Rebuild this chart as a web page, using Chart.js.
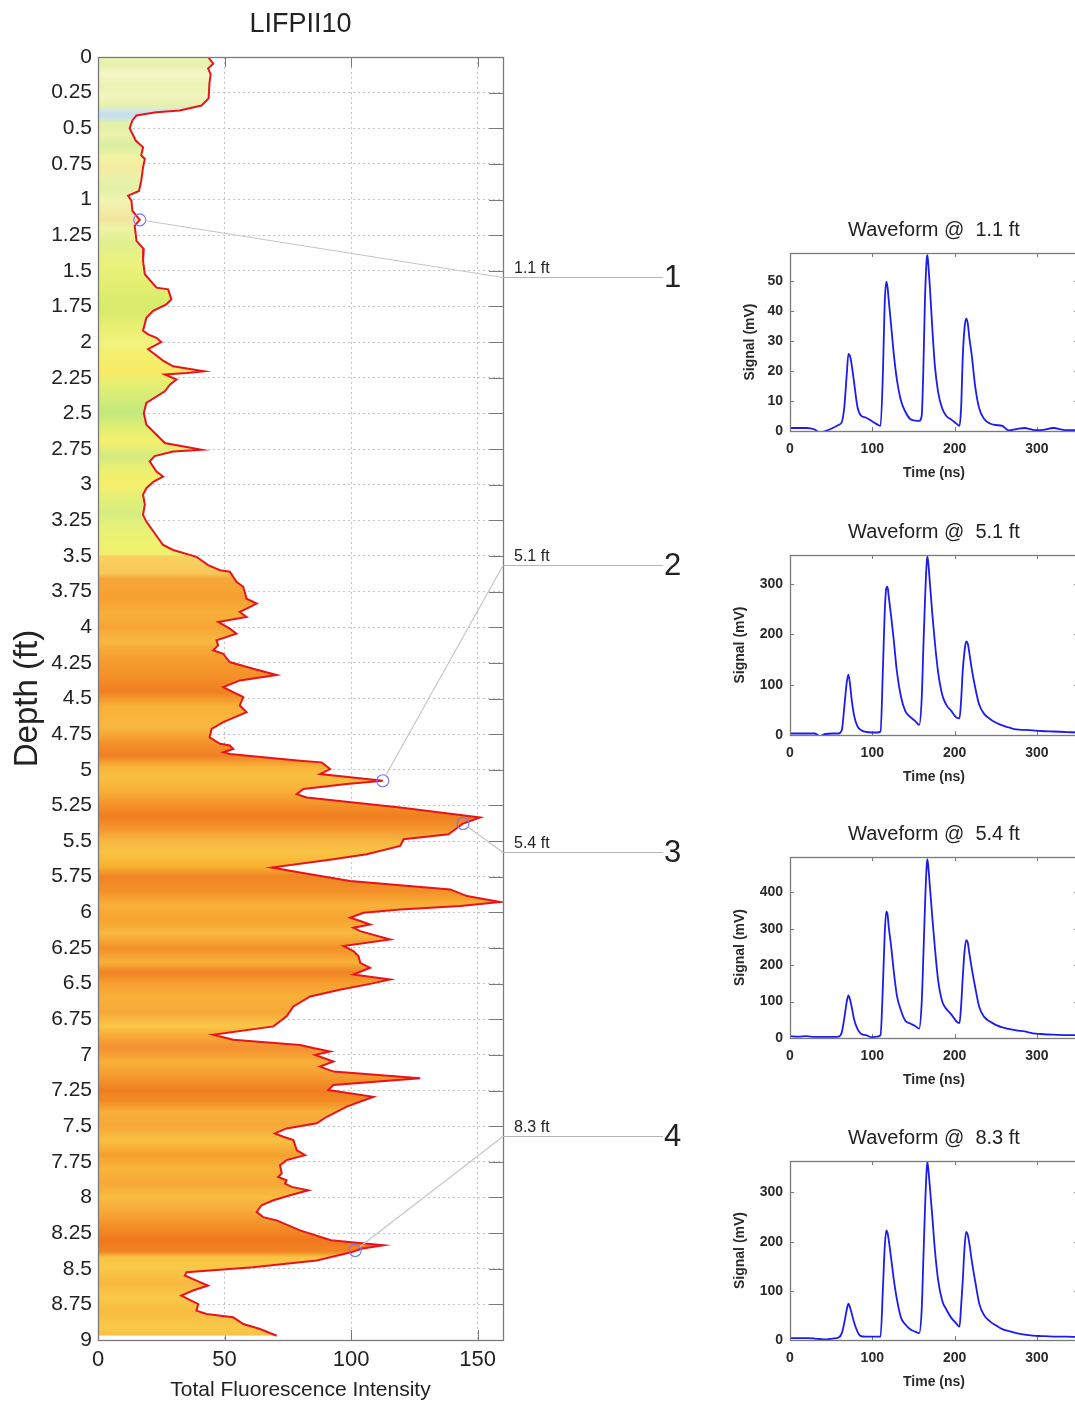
<!DOCTYPE html>
<html>
<head>
<meta charset="utf-8">
<script src="https://cdn.jsdelivr.net/npm/chart.js@4.4.1/dist/chart.umd.min.js"></script>
<style>
  html, body { margin: 0; padding: 0; background: #ffffff; width: 1075px; height: 1405px; overflow: hidden; position: relative; }
  canvas { position: absolute; display: block; }
</style>
</head>
<body>
<canvas id="mainChart" width="700" height="1405" style="left:0;top:0"></canvas>
<script>
// ---------------- DATA ----------------
// Depth log (ft) and total fluorescence intensity
const depthFt = [
  0.000, 0.047, 0.080, 0.120, 0.190, 0.290, 0.340, 0.375, 0.387, 0.410,
  0.445, 0.500, 0.586, 0.633, 0.690, 0.715, 0.774, 0.867, 0.940, 0.973,
  1.008, 1.080, 1.142, 1.184, 1.243, 1.290, 1.348, 1.430, 1.524, 1.618,
  1.630, 1.700, 1.735, 1.780, 1.830, 1.920, 1.946, 1.970, 2.000, 2.050,
  2.130, 2.170, 2.204, 2.216, 2.227, 2.263, 2.298, 2.345, 2.427, 2.497,
  2.580, 2.650, 2.708, 2.755, 2.767, 2.800, 2.837, 2.908, 2.943, 2.978,
  3.025, 3.070, 3.140, 3.212, 3.259, 3.341, 3.423, 3.458, 3.506, 3.564,
  3.600, 3.611, 3.681, 3.716, 3.800, 3.834, 3.870, 3.893, 3.928, 3.963,
  4.010, 4.045, 4.092, 4.127, 4.162, 4.186, 4.244, 4.291, 4.335, 4.373,
  4.420, 4.455, 4.490, 4.549, 4.596, 4.666, 4.713, 4.772, 4.818, 4.830,
  4.854, 4.877, 4.889, 4.936, 4.948, 4.995, 5.030, 5.077, 5.100, 5.135,
  5.171, 5.194, 5.264, 5.335, 5.377, 5.452, 5.487, 5.534, 5.593, 5.628,
  5.686, 5.721, 5.780, 5.839, 5.886, 5.928, 5.956, 5.980, 6.003, 6.038,
  6.061, 6.085, 6.108, 6.132, 6.190, 6.237, 6.272, 6.307, 6.354, 6.389,
  6.436, 6.471, 6.500, 6.542, 6.590, 6.660, 6.730, 6.800, 6.859, 6.894,
  6.930, 6.952, 6.976, 7.000, 7.046, 7.082, 7.117, 7.164, 7.211, 7.246,
  7.294, 7.363, 7.434, 7.480, 7.516, 7.551, 7.574, 7.598, 7.668, 7.703,
  7.738, 7.773, 7.832, 7.856, 7.879, 7.903, 7.926, 7.950, 7.985, 8.020,
  8.055, 8.102, 8.138, 8.161, 8.231, 8.300, 8.335, 8.360, 8.385, 8.442,
  8.489, 8.524, 8.547, 8.583, 8.618, 8.653, 8.689, 8.724, 8.747, 8.794,
  8.818, 8.841, 8.888, 8.923, 8.970
];
const fluorescence = [
  43.5, 45.5, 43.5, 44.5, 44.0, 43.7, 40.9, 32.3, 23.0, 15.2,
  13.6, 12.5, 14.9, 17.8, 17.1, 18.5, 17.8, 17.1, 16.2, 11.9,
  13.2, 13.6, 16.5, 14.5, 14.9, 15.2, 18.1, 17.8, 18.5, 23.1,
  27.7, 29.0, 27.0, 21.8, 19.1, 17.8, 19.8, 23.1, 25.0, 19.8,
  25.7, 29.7, 41.8, 35.0, 26.4, 31.0, 28.4, 26.4, 19.1, 18.1,
  19.1, 23.1, 26.4, 40.9, 29.7, 22.4, 20.4, 23.1, 25.7, 22.0,
  19.1, 17.8, 18.5, 17.8, 19.1, 22.4, 25.7, 29.7, 38.9, 43.5,
  48.2, 52.1, 54.7, 57.4, 58.7, 62.7, 58.7, 56.0, 58.7, 47.5,
  52.1, 54.7, 46.8, 47.5, 45.5, 49.5, 52.0, 61.3, 70.6, 56.1,
  49.5, 53.4, 57.4, 56.0, 58.7, 49.5, 44.9, 44.1, 48.2, 52.1,
  53.4, 49.5, 52.1, 79.8, 88.4, 91.7, 87.7, 112.5, 98.3, 81.1,
  78.5, 82.5, 119.4, 151.0, 144.2, 138.5, 120.7, 119.4, 106.2, 93.0,
  68.6, 79.8, 99.6, 139.2, 145.8, 159.0, 143.1, 119.4, 104.9, 99.6,
  103.6, 107.5, 100.9, 103.6, 115.4, 97.0, 100.9, 102.9, 103.6, 107.5,
  100.9, 115.4, 108.0, 96.0, 83.8, 77.2, 74.5, 69.3, 45.5, 53.4,
  79.8, 85.1, 91.7, 85.8, 93.0, 87.7, 93.0, 127.3, 93.0, 91.0,
  108.8, 98.3, 90.4, 86.4, 74.5, 69.9, 73.2, 77.2, 78.5, 81.8,
  74.5, 71.9, 72.6, 71.2, 74.5, 73.9, 76.5, 83.1, 75.9, 69.3,
  64.6, 62.7, 65.3, 70.6, 79.8, 92.0, 112.8, 104.0, 100.0, 86.4,
  61.3, 35.0, 34.3, 38.9, 43.5, 37.5, 32.9, 36.8, 39.6, 38.9,
  42.9, 53.4, 57.4, 64.0, 70.6
];

// Sampled points (circles) and their call-out labels
const markerDepth = [1.142, 5.077, 5.377, 8.372];
const markerIntensity = [16.5, 112.5, 144.2, 101.6];
const markerLabels = ['1.1 ft', '5.1 ft', '5.4 ft', '8.3 ft'];
const markerNumbers = ['1', '2', '3', '4'];

// Waveforms (time in ns, signal in mV)
const waveTime = [
  0, 10, 20, 30, 36, 43, 52, 59, 63, 66, 69, 71, 73, 75, 78, 82, 86, 92, 100, 106,
  110, 113, 115, 117, 118.5, 120, 123, 126, 130, 135, 140, 146, 152, 157, 160, 162, 164, 166, 167, 168.5,
  170, 173, 176, 180, 185, 190, 196, 202, 206, 208, 210, 212, 214, 216, 218, 221, 225, 230, 236, 243,
  250, 258, 266, 275, 285, 295, 305, 320, 335, 350
];
const wave11ft = [
  1, 1, 1, 0.5, -0.5, 0, 1, 2, 3, 8, 19, 25.7, 25, 22, 16, 8, 5.2, 4.5, 3.2, 2.2,
  1.7, 20, 42, 49.8, 48, 43.6, 35, 26, 17, 10, 6.5, 4, 3.5, 3.4, 5, 20, 43.6, 57, 58.7, 54,
  48, 34, 22, 13, 7.5, 5, 3.8, 2.5, 1.7, 8, 25, 34, 37.5, 36, 31, 25, 15, 7.5, 4, 2.5,
  2, 1.7, 0.2, 0.6, 1, 0.4, 0.3, 1, 0.3, 0.3
];
const wave51ft = [
  3, 3, 3, 3, -2, 2, 3, 3, 10, 56, 105, 120, 100, 70, 38, 17, 10, 6, 5, 5,
  7, 136, 240, 292, 295, 275, 235, 190, 125, 75, 48, 36, 28, 20, 70, 170, 265, 340, 355, 335,
  302, 240, 185, 125, 80, 60, 48, 35, 33, 70, 130, 165, 186, 182, 163, 130, 95, 60, 42, 32,
  25, 19, 15, 11, 10, 9, 8, 7, 6, 5
];
const wave54ft = [
  5, 4, 5, 3, 3, 3, 3, 4, 16, 55, 100, 117, 105, 85, 50, 25, 12, 8, 2, 4,
  8, 150, 280, 347, 340, 305, 250, 185, 115, 75, 48, 40, 33, 26, 95, 220, 360, 470, 491, 460,
  416, 330, 250, 159, 100, 80, 65, 46, 41, 90, 168, 235, 269, 262, 232, 190, 140, 85, 58, 45,
  36, 29, 25, 21, 18, 13, 11, 9, 8, 8
];
const wave83ft = [
  4, 4, 4, 3, 2, 1, 3, 5, 14, 35, 62, 74, 66, 54, 35, 17, 8, 7, 7, 7,
  7, 108, 185, 223, 218, 203, 165, 125, 82, 45, 32, 22, 17, 14, 60, 160, 264, 345, 362, 340,
  311, 250, 185, 122, 80, 62, 45, 34, 27, 70, 122, 185, 220, 214, 196, 160, 120, 74, 50, 38,
  30, 22, 18, 14, 11, 9, 8, 7, 7, 6
];
const waveSignals = [wave11ft, wave51ft, wave54ft, wave83ft];
const waveTitles = ['Waveform @  1.1 ft', 'Waveform @  5.1 ft', 'Waveform @  5.4 ft', 'Waveform @  8.3 ft'];
const waveYMax = [59.4, 358, 497, 364];
const waveYStep = [10, 100, 100, 100];
const timeTicksStep = 100;
const depthTickStep = 0.25;
const intensityTickStep = 50;

// ---------------- STYLE / LAYOUT ----------------
const FONT = "'Liberation Sans', Arial, Helvetica, sans-serif";
Chart.defaults.font.family = FONT;
Chart.defaults.color = '#222';

// colour bands of the filled log, [depth, colour]
const bandStops = [
  [0.00,'#f3f7b6'],[0.05,'#e5f1ae'],[0.12,'#f6f6c6'],[0.20,'#e9f3b4'],[0.28,'#f3f5be'],[0.34,'#e6f1ac'],
  [0.37,'#d6e8de'],[0.40,'#c6def0'],[0.44,'#cfe6dc'],[0.46,'#e1f0a8'],[0.55,'#ebf3aa'],[0.62,'#d9eea2'],
  [0.70,'#f1f4a2'],[0.78,'#f5eba0'],[0.84,'#eaf2a8'],[0.92,'#e2f1a6'],[1.00,'#f0f4b0'],[1.08,'#f4eda8'],
  [1.14,'#f4e49c'],[1.20,'#eef3a6'],[1.30,'#e1ef90'],[1.45,'#ebf27c'],[1.60,'#e3ef70'],[1.75,'#d7eb6c'],
  [1.90,'#e9f070'],[2.00,'#f1f27e'],[2.10,'#f4f06e'],[2.20,'#f8eb66'],[2.28,'#e7ef70'],[2.40,'#d3ec78'],
  [2.50,'#c3e97c'],[2.60,'#e0ef74'],[2.70,'#f4f06e'],[2.80,'#d3eb80'],[2.90,'#edf070'],[3.00,'#f6ef6c'],
  [3.10,'#e3ef78'],[3.20,'#d7ed80'],[3.30,'#e7f178'],[3.40,'#eef370'],[3.49,'#f0f06e'],[3.50,'#f8d262'],
  [3.62,'#f8c858'],[3.66,'#f6a838'],[3.80,'#f6a030'],[3.90,'#f8b03a'],[4.00,'#f7a535'],[4.10,'#f8b840'],
  [4.20,'#f6a030'],[4.35,'#f49028'],[4.45,'#ef7e20'],[4.55,'#f8b038'],[4.70,'#f8b840'],[4.82,'#f49028'],
  [4.90,'#f08024'],[4.98,'#f8b438'],[5.05,'#f9c040'],[5.15,'#f8b038'],[5.25,'#f49028'],[5.33,'#ef7e20'],
  [5.42,'#f59830'],[5.50,'#f8b840'],[5.58,'#f9c444'],[5.68,'#f8b030'],[5.75,'#f08424'],[5.85,'#f39028'],
  [5.95,'#f8b038'],[6.05,'#f6a430'],[6.15,'#f8b840'],[6.25,'#f39028'],[6.35,'#f8b03a'],[6.42,'#f08424'],
  [6.50,'#f6a030'],[6.60,'#f8b038'],[6.70,'#f7a838'],[6.80,'#fac848'],[6.85,'#f8b038'],[6.95,'#f49030'],
  [7.05,'#f8b038'],[7.15,'#f59a30'],[7.25,'#ef7e20'],[7.32,'#f28a24'],[7.40,'#f8b038'],[7.50,'#f7a838'],
  [7.60,'#f9c040'],[7.70,'#f6a030'],[7.80,'#f8b43a'],[7.90,'#f7a838'],[8.00,'#f9bc40'],[8.10,'#f7a838'],
  [8.20,'#f49028'],[8.30,'#ef781c'],[8.38,'#f28424'],[8.42,'#f9c444'],[8.50,'#fac848'],[8.60,'#f8b840'],
  [8.70,'#fac848'],[8.80,'#f8bc40'],[8.90,'#fac848'],[9.00,'#f8c044']
];

function bandFill(context) {
  const chart = context.chart;
  const y = chart.scales && chart.scales.y;
  if (!chart.chartArea || !y) return '#f8b038';
  const y0 = y.getPixelForValue(0), y1 = y.getPixelForValue(9);
  const g = chart.ctx.createLinearGradient(0, y0, 0, y1);
  bandStops.forEach(([d, c]) => g.addColorStop(Math.min(1, Math.max(0, d / 9)), c));
  return g;
}

// frame box with inward tick marks (MATLAB style) + title centred over the plot box
const framePlugin = {
  id: 'frameBox',
  beforeDatasetsDraw(chart, args, opts) {
    const {ctx, chartArea: a, scales} = chart;
    const x = scales.x, y = scales.y;
    ctx.save();
    ctx.setLineDash([]);
    ctx.strokeStyle = opts.color;
    ctx.lineWidth = 1;
    ctx.beginPath();
    x.ticks.forEach(t => {
      const px = Math.round(x.getPixelForValue(t.value)) + 0.5;
      if (px <= a.left + 1 || px >= a.right - 1) return;
      ctx.moveTo(px, a.top); ctx.lineTo(px, a.top + opts.xLen);
      ctx.moveTo(px, a.bottom); ctx.lineTo(px, a.bottom - opts.xLen);
    });
    y.ticks.forEach(t => {
      const py = Math.round(y.getPixelForValue(t.value)) + 0.5;
      if (py <= a.top + 1 || py >= a.bottom - 1) return;
      ctx.moveTo(a.left, py); ctx.lineTo(a.left + opts.yLen, py);
      ctx.moveTo(a.right, py); ctx.lineTo(a.right - opts.yLen, py);
    });
    ctx.stroke();
    ctx.restore();
  },
  afterDatasetsDraw(chart, args, opts) {
    const {ctx, chartArea: a} = chart;
    ctx.save();
    ctx.setLineDash([]);
    ctx.strokeStyle = opts.color;
    ctx.lineWidth = 1.3;
    ctx.strokeRect(Math.round(a.left) + 0.5, Math.round(a.top) + 0.5, Math.round(a.right - a.left), Math.round(a.bottom - a.top));
    if (opts.title) {
      ctx.fillStyle = '#222';
      ctx.font = opts.titleSize + 'px ' + FONT;
      ctx.textAlign = 'center';
      ctx.textBaseline = 'middle';
      ctx.fillText(opts.title, (a.left + a.right) / 2, a.top - opts.titleOffset);
    }
    ctx.restore();
  }
};

// call-out lines from sampled points to the numbered labels
const calloutY = [277, 565, 852, 1136];
const calloutPlugin = {
  id: 'callouts',
  afterDraw(chart) {
    const {ctx, chartArea: a, scales: {x, y}} = chart;
    ctx.save();
    ctx.setLineDash([]);
    markerDepth.forEach((d, i) => {
      const mx = x.getPixelForValue(markerIntensity[i]);
      const my = y.getPixelForValue(d);
      const ly = calloutY[i] + 0.5;
      const ex = a.right, ang = Math.atan2(ly - my, ex - mx);
      ctx.beginPath();
      ctx.strokeStyle = '#c6c6c6';
      ctx.lineWidth = 1.2;
      ctx.moveTo(mx + 6 * Math.cos(ang), my + 6 * Math.sin(ang));
      ctx.lineTo(ex, ly);
      ctx.stroke();
      ctx.beginPath();
      ctx.strokeStyle = '#b4b4b4';
      ctx.moveTo(ex, ly);
      ctx.lineTo(a.right + 160, ly);
      ctx.stroke();
      ctx.fillStyle = '#222';
      ctx.font = '16px ' + FONT;
      ctx.textAlign = 'left';
      ctx.textBaseline = 'alphabetic';
      ctx.fillText(markerLabels[i], a.right + 11, ly - 5);
      ctx.font = '31px ' + FONT;
      ctx.textBaseline = 'middle';
      ctx.fillText(markerNumbers[i], a.right + 161, ly + 1);
    });
    ctx.restore();
  }
};

// ---------------- MAIN LOG CHART ----------------
new Chart(document.getElementById('mainChart'), {
  type: 'line',
  data: {
    datasets: [
      {
        label: 'Sampled waveforms',
        data: markerDepth.map((d, i) => ({x: markerIntensity[i], y: d})),
        showLine: false,
        fill: false,
        pointRadius: 6,
        pointHoverRadius: 6,
        pointBorderColor: '#7676ff',
        pointBackgroundColor: 'rgba(0,0,0,0)',
        pointBorderWidth: 1.2
      },
      {
        label: 'Total Fluorescence Intensity',
        data: depthFt.map((d, i) => ({x: fluorescence[i], y: d})),
        borderColor: '#e8141c',
        borderWidth: 2,
        pointRadius: 0,
        tension: 0,
        fill: 'origin',
        backgroundColor: bandFill
      }
    ]
  },
  options: {
    indexAxis: 'y',
    responsive: false,
    animation: false,
    devicePixelRatio: 1,
    layout: {padding: {left: 0, top: 57, right: 197, bottom: 0}},
    plugins: {
      legend: {display: false},
      tooltip: {enabled: false},
      title: {display: false},
      frameBox: {color: '#7a7a7a', xLen: 10, yLen: 14, title: 'LIFPII10', titleSize: 27, titleOffset: 32}
    },
    scales: {
      x: {
        type: 'linear', position: 'bottom', min: 0, max: 160,
        ticks: {stepSize: intensityTickStep, includeBounds: false, padding: 7, font: {size: 22}, color: '#222', maxRotation: 0},
        grid: {color: '#c2c2c2', lineWidth: 1, drawTicks: false},
        border: {display: false, dash: [2, 3]},
        title: {display: true, text: 'Total Fluorescence Intensity', color: '#222', font: {size: 21}, padding: {top: 0, bottom: 2}},
        afterFit: s => { s.height = 65; }
      },
      y: {
        type: 'linear', position: 'left', min: 0, max: 9, reverse: true,
        ticks: {stepSize: depthTickStep, includeBounds: false, autoSkip: false, padding: 6, font: {size: 21}, color: '#222',
                callback: v => String(+Number(v).toFixed(2))},
        grid: {color: '#c2c2c2', lineWidth: 1, drawTicks: false},
        border: {display: false, dash: [2, 3]},
        title: {display: true, text: 'Depth (ft)', color: '#222', font: {size: 33}, padding: {top: 8, bottom: 0}},
        afterFit: s => { s.width = 98; }
      }
    }
  },
  plugins: [framePlugin, calloutPlugin]
});

// ---------------- WAVEFORM PANELS ----------------
const panelAreaTop = [253, 555, 857, 1161];
const panelAreaBottom = [431, 735, 1038, 1340];
const panelYTitlePad = [41.6, 31.6, 31.6, 31.6];
const PANEL_LEFT = 700, PANEL_W = 378, PANEL_TOP_SPACE = 53, PANEL_BOTTOM_SPACE = 59;

waveSignals.forEach((sig, k) => {
  const cv = document.createElement('canvas');
  const top = panelAreaTop[k] - PANEL_TOP_SPACE;
  const h = panelAreaBottom[k] - panelAreaTop[k] + PANEL_TOP_SPACE + PANEL_BOTTOM_SPACE;
  cv.width = PANEL_W; cv.height = h;
  cv.style.left = PANEL_LEFT + 'px';
  cv.style.top = top + 'px';
  document.body.appendChild(cv);
  new Chart(cv, {
    type: 'line',
    data: {
      datasets: [{
        label: waveTitles[k],
        data: waveTime.map((t, i) => ({x: t, y: sig[i]})),
        borderColor: '#1c1cf0',
        borderWidth: 1.8,
        pointRadius: 0,
        cubicInterpolationMode: 'monotone',
        fill: false
      }]
    },
    options: {
      responsive: false,
      animation: false,
      devicePixelRatio: 1,
      layout: {padding: {top: PANEL_TOP_SPACE, left: 0, right: 0, bottom: 0}},
      plugins: {
        legend: {display: false},
        tooltip: {enabled: false},
        title: {display: false},
        frameBox: {color: '#7a7a7a', xLen: 4, yLen: 4, title: waveTitles[k], titleSize: 20, titleOffset: 23}
      },
      scales: {
        x: {
          type: 'linear', min: 0, max: 350,
          ticks: {stepSize: timeTicksStep, includeBounds: false, padding: 10, font: {size: 14, weight: 'bold'}, color: '#2a2a2a', maxRotation: 0},
          grid: {display: false, drawTicks: false},
          border: {display: false},
          title: {display: true, text: 'Time (ns)', color: '#2a2a2a', font: {size: 14, weight: 'bold'}, padding: {top: 0, bottom: 8.6}},
          afterFit: s => { s.height = PANEL_BOTTOM_SPACE; }
        },
        y: {
          type: 'linear', min: 0, max: waveYMax[k],
          ticks: {padding: 7, font: {size: 14, weight: 'bold'}, color: '#2a2a2a'},
          afterBuildTicks: s => {
            const t = [];
            for (let v = 0; v <= waveYMax[k] + 1e-9; v += waveYStep[k]) t.push({value: v});
            s.ticks = t;
          },
          grid: {display: false, drawTicks: false},
          border: {display: false},
          title: {display: true, text: 'Signal (mV)', color: '#2a2a2a', font: {size: 14, weight: 'bold'}, padding: {top: panelYTitlePad[k], bottom: 0}},
          afterFit: s => { s.width = 90; }
        }
      }
    },
    plugins: [framePlugin]
  });
});
</script>
</body>
</html>
